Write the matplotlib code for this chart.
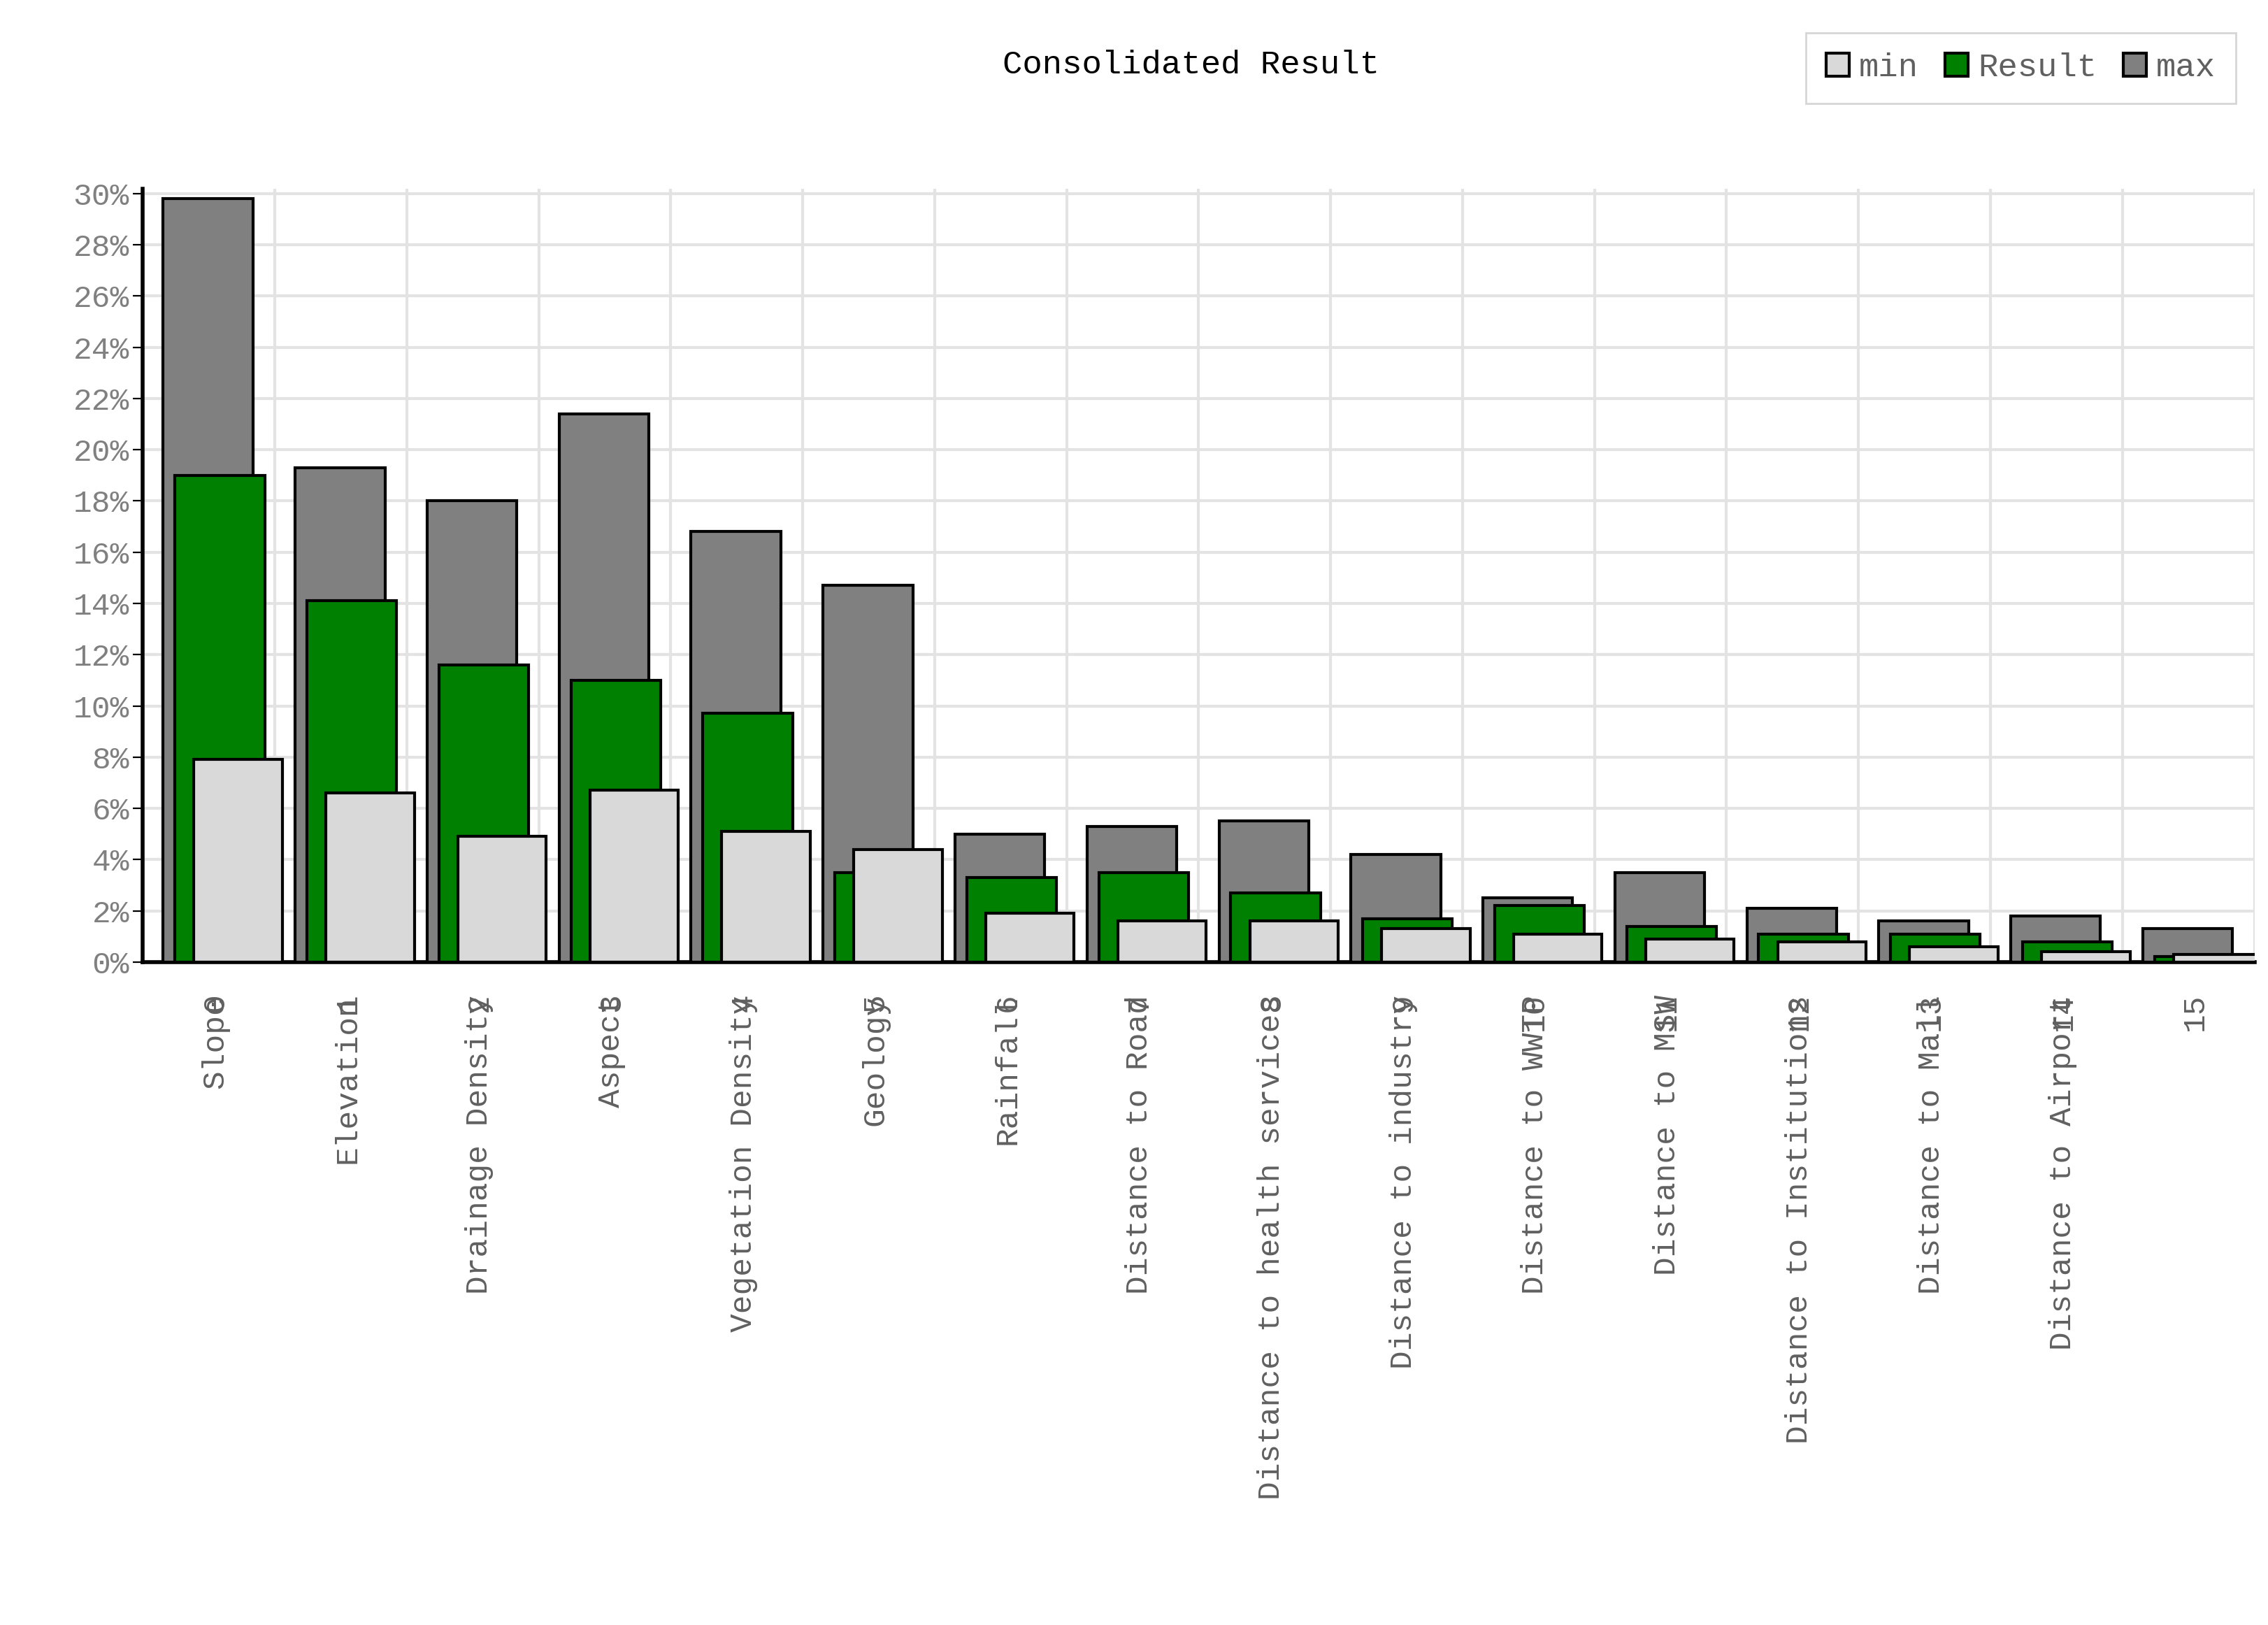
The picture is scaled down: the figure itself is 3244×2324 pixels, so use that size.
import matplotlib
matplotlib.use("Agg")
import matplotlib.pyplot as plt
import numpy as np

categories = ["Slope", "Elevation", "Drainage Density", "Aspect", "Vegetation Density",
              "Geology", "Rainfall", "Distance to Road", "Distance to health services",
              "Distance to industry", "Distance to WWTP", "Distance to MSW",
              "Distance to Institutions", "Distance to Mall", "Distance to Airport", ""]
max_vals = [29.8, 19.3, 18.0, 21.4, 16.8, 14.7, 5.0, 5.3, 5.5, 4.2, 2.5, 3.5, 2.1, 1.6, 1.8, 1.3]
result_vals = [19.0, 14.1, 11.6, 11.0, 9.7, 3.5, 3.3, 3.5, 2.7, 1.7, 2.2, 1.4, 1.1, 1.1, 0.8, 0.2]
min_vals = [7.9, 6.6, 4.9, 6.7, 5.1, 4.4, 1.9, 1.6, 1.6, 1.3, 1.1, 0.9, 0.8, 0.6, 0.4, 0.3]

mono = ["Liberation Mono", "DejaVu Sans Mono"]
fig = plt.figure(figsize=(16.22, 11.62), dpi=200)
ax = fig.add_axes([0.063, 0.408, 0.931, 0.476])
x = np.arange(len(categories))
kw = dict(edgecolor="black", linewidth=1.5, zorder=3)
ax.bar(x - 0.006, max_vals, width=0.68, color="#808080", label="max", **kw)
ax.bar(x + 0.083, result_vals, width=0.68, color="#008000", label="Result", **kw)
ax.bar(x + 0.222, min_vals, width=0.67, color="#d9d9d9", label="min", **kw)

ax.set_xlim(-0.5, 15.5)
ax.set_ylim(0, 30.2)
ax.set_yticks(np.arange(0, 31, 2))
ax.set_yticklabels([f"{v}%" for v in range(0, 31, 2)], family=mono, fontsize=16, color="#808080")
ax.set_xticks(x + 0.05)
ax.set_xticklabels(categories, rotation=90, family=mono, fontsize=16, color="#606060", va="top")
for i in x:
    ax.text(i + 0.05, -0.04, str(i), transform=ax.get_xaxis_transform(), rotation=90,
            ha="center", va="top", family=mono, fontsize=16, color="#606060")
ax.set_xticks(np.arange(-0.5, 16, 1), minor=True)
ax.grid(True, which="minor", axis="x", color="#e3e3e3", linewidth=1.5, zorder=0)
ax.grid(True, which="major", axis="y", color="#e3e3e3", linewidth=1.5, zorder=0)
ax.tick_params(axis="x", which="both", length=0, pad=17)
ax.tick_params(axis="y", length=5, color="black", pad=2)
for s in ["top", "right"]:
    ax.spines[s].set_visible(False)
ax.spines["left"].set_linewidth(2)
ax.spines["bottom"].set_linewidth(2)

fig.text(0.525, 0.96, "Consolidated Result", ha="center", va="center", family=mono, fontsize=17)
h, l = ax.get_legend_handles_labels()
leg = fig.legend(h[::-1], l[::-1], loc="upper right", bbox_to_anchor=(0.993, 0.99), ncol=3,
                 prop={"family": mono, "size": 17}, frameon=True, fancybox=False,
                 handlelength=0.7, handleheight=0.7, handletextpad=0.3, columnspacing=0.8,
                 edgecolor="#cccccc", labelcolor="#606060", borderpad=0.6)
fig.savefig("out.png", dpi=200)
